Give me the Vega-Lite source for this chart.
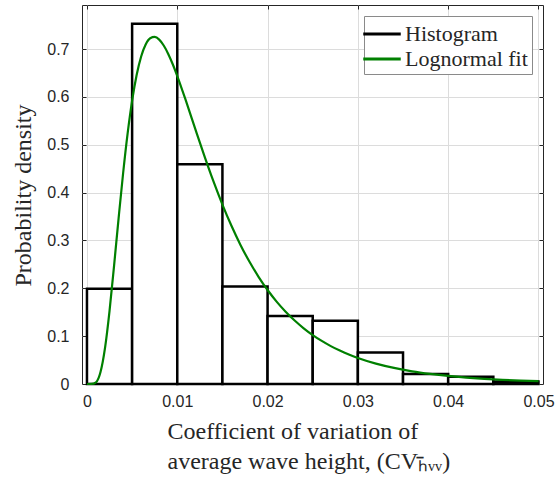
{
  "$schema": "https://vega.github.io/schema/vega-lite/v6.json",
  "width": 461,
  "height": 379,
  "autosize": "none",
  "padding": {"left": 82, "top": 5, "right": 14, "bottom": 102},
  "background": "white",
  "config": {
    "view": {"stroke": "#262626", "strokeWidth": 1},
    "axis": {
      "labelFont": "Liberation Sans",
      "labelFontSize": 16,
      "labelColor": "#262626",
      "titleFont": "Liberation Serif",
      "titleFontSize": 24,
      "titleFontWeight": "normal",
      "titleColor": "#262626",
      "domain": false,
      "tickColor": "#262626",
      "tickSize": -4,
      "gridColor": "#dcdcdc",
      "gridWidth": 1
    },
    "legend": {
      "labelFont": "Liberation Serif",
      "labelFontSize": 22,
      "labelColor": "#262626"
    }
  },
  "datasets": {
    "hist": [
      {"x0": 0.000, "x1": 0.005, "d": 0.199, "s": "Histogram"},
      {"x0": 0.005, "x1": 0.010, "d": 0.753, "s": "Histogram"},
      {"x0": 0.010, "x1": 0.015, "d": 0.459, "s": "Histogram"},
      {"x0": 0.015, "x1": 0.020, "d": 0.204, "s": "Histogram"},
      {"x0": 0.020, "x1": 0.025, "d": 0.142, "s": "Histogram"},
      {"x0": 0.025, "x1": 0.030, "d": 0.132, "s": "Histogram"},
      {"x0": 0.030, "x1": 0.035, "d": 0.066, "s": "Histogram"},
      {"x0": 0.035, "x1": 0.040, "d": 0.021, "s": "Histogram"},
      {"x0": 0.040, "x1": 0.045, "d": 0.015, "s": "Histogram"},
      {"x0": 0.045, "x1": 0.050, "d": 0.005, "s": "Histogram"}
    ],
    "fit": [
      {"x": 0.0, "y": 0.0, "s": "Lognormal fit"},
      {"x": 0.0005, "y": 0.0001, "s": "Lognormal fit"},
      {"x": 0.001, "y": 0.0036, "s": "Lognormal fit"},
      {"x": 0.0015, "y": 0.025, "s": "Lognormal fit"},
      {"x": 0.002, "y": 0.0755, "s": "Lognormal fit"},
      {"x": 0.0025, "y": 0.1529, "s": "Lognormal fit"},
      {"x": 0.003, "y": 0.247, "s": "Lognormal fit"},
      {"x": 0.0035, "y": 0.3458, "s": "Lognormal fit"},
      {"x": 0.004, "y": 0.4399, "s": "Lognormal fit"},
      {"x": 0.0045, "y": 0.5231, "s": "Lognormal fit"},
      {"x": 0.005, "y": 0.5921, "s": "Lognormal fit"},
      {"x": 0.0055, "y": 0.6458, "s": "Lognormal fit"},
      {"x": 0.006, "y": 0.6845, "s": "Lognormal fit"},
      {"x": 0.0065, "y": 0.7095, "s": "Lognormal fit"},
      {"x": 0.007, "y": 0.7226, "s": "Lognormal fit"},
      {"x": 0.0075, "y": 0.7253, "s": "Lognormal fit"},
      {"x": 0.008, "y": 0.7197, "s": "Lognormal fit"},
      {"x": 0.0085, "y": 0.7073, "s": "Lognormal fit"},
      {"x": 0.009, "y": 0.6897, "s": "Lognormal fit"},
      {"x": 0.0095, "y": 0.6681, "s": "Lognormal fit"},
      {"x": 0.010, "y": 0.6436, "s": "Lognormal fit"},
      {"x": 0.011, "y": 0.5895, "s": "Lognormal fit"},
      {"x": 0.012, "y": 0.5327, "s": "Lognormal fit"},
      {"x": 0.013, "y": 0.4769, "s": "Lognormal fit"},
      {"x": 0.014, "y": 0.4239, "s": "Lognormal fit"},
      {"x": 0.015, "y": 0.375, "s": "Lognormal fit"},
      {"x": 0.016, "y": 0.3306, "s": "Lognormal fit"},
      {"x": 0.017, "y": 0.2907, "s": "Lognormal fit"},
      {"x": 0.018, "y": 0.2553, "s": "Lognormal fit"},
      {"x": 0.019, "y": 0.224, "s": "Lognormal fit"},
      {"x": 0.020, "y": 0.1964, "s": "Lognormal fit"},
      {"x": 0.021, "y": 0.1722, "s": "Lognormal fit"},
      {"x": 0.022, "y": 0.1511, "s": "Lognormal fit"},
      {"x": 0.023, "y": 0.1326, "s": "Lognormal fit"},
      {"x": 0.024, "y": 0.1164, "s": "Lognormal fit"},
      {"x": 0.025, "y": 0.1023, "s": "Lognormal fit"},
      {"x": 0.026, "y": 0.09, "s": "Lognormal fit"},
      {"x": 0.027, "y": 0.0792, "s": "Lognormal fit"},
      {"x": 0.028, "y": 0.0698, "s": "Lognormal fit"},
      {"x": 0.029, "y": 0.0616, "s": "Lognormal fit"},
      {"x": 0.030, "y": 0.0544, "s": "Lognormal fit"},
      {"x": 0.032, "y": 0.0426, "s": "Lognormal fit"},
      {"x": 0.034, "y": 0.0336, "s": "Lognormal fit"},
      {"x": 0.036, "y": 0.0265, "s": "Lognormal fit"},
      {"x": 0.038, "y": 0.0211, "s": "Lognormal fit"},
      {"x": 0.040, "y": 0.0168, "s": "Lognormal fit"},
      {"x": 0.042, "y": 0.0135, "s": "Lognormal fit"},
      {"x": 0.044, "y": 0.0109, "s": "Lognormal fit"},
      {"x": 0.046, "y": 0.0088, "s": "Lognormal fit"},
      {"x": 0.048, "y": 0.0071, "s": "Lognormal fit"},
      {"x": 0.050, "y": 0.0058, "s": "Lognormal fit"}
    ]
  },
  "resolve": {"axis": {"x": "independent", "y": "independent"}},
  "layer": [
    {
      "data": {"name": "hist"},
      "mark": {"type": "rect", "fill": "white", "strokeWidth": 2.5},
      "encoding": {
        "x": {
          "field": "x0", "type": "quantitative",
          "scale": {"domain": [-0.00055, 0.0505], "nice": false, "zero": false},
          "axis": {
            "values": [0, 0.01, 0.02, 0.03, 0.04, 0.05],
            "format": "~g",
            "grid": true,
            "zindex": 0,
            "labelPadding": 13,
            "title": ["Coefficient of variation of", "average wave height, (CVₕ̄ᵥᵥ)"],
            "titleAlign": "left",
            "titleAnchor": "start",
            "titleX": 85,
            "titleY": 35,
            "titleBaseline": "top",
            "titleLineHeight": 30
          }
        },
        "x2": {"field": "x1"},
        "y": {
          "field": "d", "type": "quantitative",
          "scale": {"domain": [0, 0.792], "nice": false},
          "axis": {
            "values": [0, 0.1, 0.2, 0.3, 0.4, 0.5, 0.6, 0.7],
            "format": "~g",
            "grid": true,
            "zindex": 0,
            "labelPadding": 17,
            "title": "Probability density",
            "titleAngle": -90,
            "titleAlign": "center",
            "titleBaseline": "middle",
            "titleX": -59,
            "titleY": 190
          }
        },
        "y2": {"datum": 0},
        "stroke": {
          "field": "s", "type": "nominal",
          "scale": {"domain": ["Histogram", "Lognormal fit"], "range": ["#000000", "#008000"]},
          "legend": {
            "title": null,
            "orient": "top-right",
            "offset": 11,
            "fillColor": "white",
            "strokeColor": "#8a8a8a",
            "padding": 4,
            "symbolType": "M-1.5,0L1.5,0",
            "symbolSize": 625,
            "symbolStrokeWidth": 3,
            "labelOffset": 9,
            "rowPadding": 0
          }
        }
      }
    },
    {
      "data": {"name": "fit"},
      "mark": {"type": "line", "strokeWidth": 2.2, "interpolate": "monotone"},
      "encoding": {
        "x": {
          "field": "x", "type": "quantitative",
          "axis": {"orient": "top", "values": [0, 0.01, 0.02, 0.03, 0.04, 0.05], "labels": false, "grid": false, "title": null, "zindex": 1}
        },
        "y": {
          "field": "y", "type": "quantitative",
          "axis": {"orient": "right", "values": [0, 0.1, 0.2, 0.3, 0.4, 0.5, 0.6, 0.7], "labels": false, "grid": false, "title": null, "zindex": 1}
        },
        "stroke": {"field": "s", "type": "nominal"}
      }
    }
  ]
}
